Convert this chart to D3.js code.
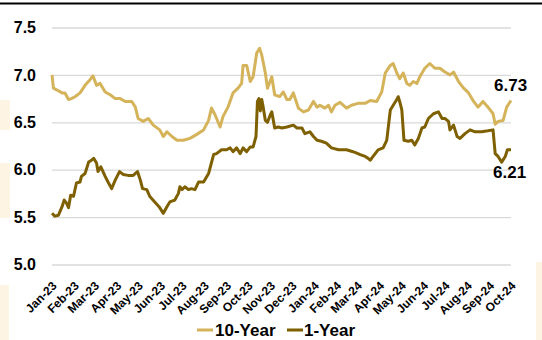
<!DOCTYPE html>
<html>
<head>
<meta charset="utf-8">
<script src="https://cdn.jsdelivr.net/npm/d3@7"></script>
<style>
  html, body { margin: 0; padding: 0; background: #ffffff; }
  svg { display: block; font-family: "Liberation Sans", Arial, sans-serif; }
</style>
</head>
<body>
<svg id="chart" width="542" height="340"></svg>
<script>
// ---- data (day offset from 2023-01-01, rate %) ----
const seriesNames = ["10-Year", "1-Year"];
const yTicks = [5.0, 5.5, 6.0, 6.5, 7.0, 7.5];
const tenYear = [[0,7.00],[2,6.86],[7,6.84],[14,6.81],[18,6.81],[23,6.74],[27,6.75],[32,6.77],[39,6.81],[46,6.89],[53,6.95],[57,6.99],[62,6.89],[67,6.91],[74,6.82],[81,6.79],[88,6.75],[95,6.75],[102,6.72],[111,6.72],[116,6.66],[120,6.54],[127,6.51],[134,6.54],[141,6.47],[150,6.42],[155,6.35],[160,6.40],[167,6.35],[174,6.31],[183,6.31],[192,6.33],[201,6.37],[211,6.42],[218,6.52],[222,6.65],[227,6.58],[234,6.45],[238,6.56],[245,6.66],[252,6.81],[259,6.86],[264,6.91],[266,7.10],[271,7.10],[276,6.93],[280,6.98],[285,7.23],[289,7.28],[292,7.21],[297,7.02],[300,6.86],[306,6.98],[310,6.79],[317,6.77],[322,6.82],[327,6.74],[331,6.74],[336,6.81],[343,6.65],[350,6.61],[357,6.63],[364,6.72],[369,6.66],[373,6.68],[380,6.65],[385,6.68],[389,6.61],[394,6.68],[401,6.71],[410,6.65],[417,6.68],[426,6.70],[436,6.70],[443,6.73],[452,6.72],[459,6.82],[464,7.02],[471,7.10],[475,7.12],[480,7.02],[484,6.96],[489,7.02],[494,6.91],[498,6.89],[503,6.93],[508,6.91],[512,6.98],[519,7.07],[526,7.12],[533,7.07],[540,7.07],[547,7.03],[554,7.00],[559,7.03],[566,6.93],[573,6.86],[580,6.81],[587,6.72],[593,6.66],[600,6.72],[607,6.66],[614,6.59],[617,6.48],[621,6.51],[628,6.52],[633,6.66],[639,6.73]];
const oneYear = [[0,5.54],[4,5.51],[9,5.52],[14,5.61],[17,5.68],[20,5.65],[23,5.60],[26,5.73],[30,5.72],[34,5.86],[39,5.87],[41,5.93],[46,5.96],[51,6.08],[55,6.10],[58,6.12],[62,6.07],[64,5.98],[68,6.03],[74,5.93],[78,5.87],[83,5.80],[88,5.89],[94,5.98],[99,5.95],[106,5.94],[113,5.94],[119,5.98],[123,5.89],[126,5.80],[132,5.79],[136,5.72],[143,5.66],[149,5.61],[155,5.54],[160,5.61],[164,5.66],[171,5.68],[176,5.75],[178,5.82],[181,5.79],[185,5.82],[190,5.79],[194,5.80],[199,5.79],[204,5.87],[211,5.87],[218,5.96],[225,6.16],[229,6.17],[236,6.21],[243,6.21],[248,6.23],[252,6.19],[257,6.23],[262,6.17],[266,6.23],[271,6.19],[276,6.24],[280,6.24],[284,6.35],[286,6.72],[288,6.75],[290,6.62],[292,6.74],[294,6.66],[297,6.52],[300,6.50],[304,6.58],[306,6.61],[310,6.44],[315,6.45],[320,6.44],[327,6.45],[336,6.47],[341,6.44],[348,6.44],[352,6.38],[359,6.40],[364,6.35],[369,6.31],[375,6.30],[382,6.28],[389,6.23],[399,6.21],[410,6.21],[419,6.19],[426,6.17],[429,6.16],[436,6.14],[440,6.12],[443,6.10],[447,6.14],[454,6.21],[461,6.23],[466,6.31],[471,6.63],[475,6.68],[480,6.74],[482,6.77],[484,6.72],[487,6.63],[490,6.31],[496,6.30],[501,6.31],[505,6.26],[510,6.33],[515,6.44],[519,6.45],[524,6.54],[531,6.59],[538,6.61],[543,6.54],[547,6.54],[552,6.51],[554,6.42],[559,6.47],[564,6.35],[568,6.33],[575,6.38],[582,6.42],[589,6.40],[598,6.40],[607,6.41],[614,6.42],[617,6.17],[621,6.14],[626,6.08],[631,6.14],[634,6.21],[639,6.21]];
const lastLabels = ["6.73", "6.21"];
const colors = ["#D5B35A", "#7F6000"];

// ---- layout ----
const svg = d3.select("#chart");
const start = new Date(2023, 0, 1);
const end = new Date(2024, 9, 1);
const toDate = d => d3.timeDay.offset(start, d);

const x = d3.scaleTime().domain([start, end]).range([52, 511]);
const y = d3.scaleLinear().domain([5, 7.5]).range([264.5, 27.5]);

// faint background artefacts at the edges of the source picture
[[0, 100, 10, 30], [0, 163, 10, 55], [0, 285, 9, 55], [536, 262, 6, 78]].forEach(r => {
  svg.append("rect").attr("x", r[0]).attr("y", r[1]).attr("width", r[2]).attr("height", r[3])
    .attr("fill", "#fdf4e4");
});

// top border line (cut-off title box)
svg.append("line").attr("x1", 0).attr("x2", 542).attr("y1", 3.5).attr("y2", 3.5)
  .attr("stroke", "#000").attr("stroke-width", 2);

// y grid + labels
const yAxis = svg.append("g").attr("transform", "translate(52,0)")
  .call(d3.axisLeft(y).tickValues(yTicks).tickFormat(d3.format(".1f")).tickSize(-459).tickPadding(16));
yAxis.select(".domain").remove();
yAxis.selectAll(".tick line").attr("stroke", "#d9d9d9").attr("stroke-width", 1.3);
yAxis.selectAll(".tick text").attr("fill", "#000").attr("font-size", 16).attr("font-weight", "bold")
  .attr("font-family", "Liberation Sans, Arial, sans-serif");

// x axis labels
const months = d3.timeMonth.range(start, d3.timeDay.offset(end, 1));
const xAxis = svg.append("g").attr("transform", "translate(0,264.5)")
  .call(d3.axisBottom(x).tickValues(months).tickFormat(d3.timeFormat("%b-%y")).tickSize(0));
xAxis.select(".domain").remove();
xAxis.selectAll(".tick text")
  .attr("x", 0).attr("y", 0).attr("dy", 0)
  .attr("transform", "translate(5,22) rotate(-45)")
  .attr("text-anchor", "end")
  .attr("fill", "#000").attr("font-size", 12).attr("font-weight", "bold")
  .attr("font-family", "Liberation Sans, Arial, sans-serif");

// lines
const line = d3.line().x(d => x(toDate(d[0]))).y(d => y(d[1]));
[tenYear, oneYear].forEach((s, i) => {
  svg.append("path").datum(s).attr("d", line).attr("fill", "none")
    .attr("stroke", colors[i]).attr("stroke-width", 3).attr("stroke-linejoin", "round");
});

// end labels
const lt = tenYear[tenYear.length - 1], lo = oneYear[oneYear.length - 1];
svg.append("text").attr("x", x(toDate(lt[0])) - 17).attr("y", y(lt[1]) - 9)
  .attr("font-size", 17).attr("font-weight", "bold").text(lastLabels[0]);
svg.append("text").attr("x", x(toDate(lo[0])) - 18).attr("y", y(lo[1]) + 28)
  .attr("font-size", 17).attr("font-weight", "bold").text(lastLabels[1]);

// legend
const legend = svg.append("g");
const legendItems = [{sx: 197, tx: 215}, {sx: 287, tx: 304}];
legendItems.forEach((p, i) => {
  legend.append("line").attr("x1", p.sx).attr("x2", p.sx + 16).attr("y1", 330).attr("y2", 330)
    .attr("stroke", colors[i]).attr("stroke-width", 3);
  legend.append("text").attr("x", p.tx).attr("y", 336).attr("font-size", 17)
    .attr("font-weight", "bold").attr("fill", "#000").text(seriesNames[i]);
});
</script>
</body>
</html>
